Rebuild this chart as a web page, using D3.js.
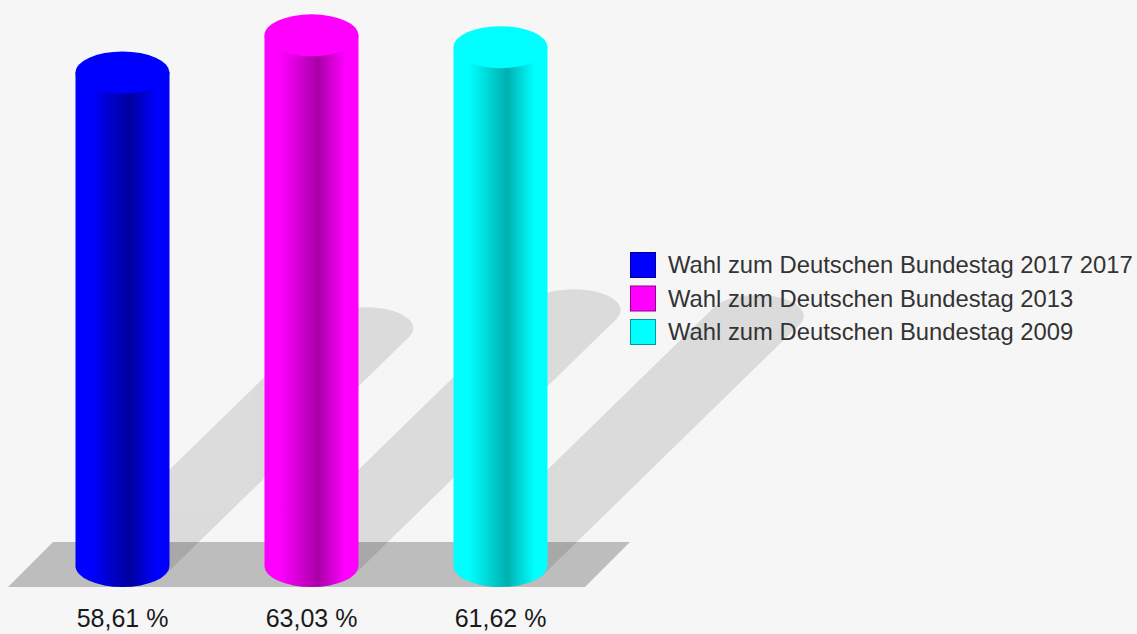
<!DOCTYPE html>
<html>
<head>
<meta charset="utf-8">
<script src="https://cdn.jsdelivr.net/npm/d3@7"></script>
<style>
  body { margin: 0; background: #f6f6f6; }
  svg { display: block; font-family: "Liberation Sans", Arial, sans-serif; }
</style>
</head>
<body>
<svg id="chart"></svg>
<script>
const categories = ["Wahl zum Deutschen Bundestag 2017 2017", "Wahl zum Deutschen Bundestag 2013", "Wahl zum Deutschen Bundestag 2009"];
const values = [58.61, 63.03, 61.62];
const colors = ["#0000ff", "#ff00ff", "#00ffff"];
const darkColors = ["#00009c", "#a800a8", "#00b0b0"];
const borderColors = ["#000090", "#900090", "#009a9a"];

const width = 1137, height = 634;
const rx = 47, ry = 21;
const baseY = 566;

const de = d3.formatLocale({decimal: ",", thousands: ".", grouping: [3], currency: ["", " €"]});
const fmt = de.format(".2f");

const svg = d3.select("#chart")
    .attr("width", width)
    .attr("height", height);

svg.append("rect")
    .attr("width", width)
    .attr("height", height)
    .attr("fill", "#f6f6f6");

const xScale = d3.scalePoint()
    .domain(categories)
    .range([122.5, 500.5]);

const yScale = d3.scaleLinear()
    .domain([0, 60])
    .range([baseY, baseY - 60 * 8.42]);

const defs = svg.append("defs");
categories.forEach((c, i) => {
    const g = defs.append("linearGradient")
        .attr("id", "grad" + i)
        .attr("x1", "0%").attr("x2", "100%")
        .attr("y1", "0%").attr("y2", "0%");
    g.append("stop").attr("offset", "0%").attr("stop-color", colors[i]);
    g.append("stop").attr("offset", "16%").attr("stop-color", colors[i]);
    g.append("stop").attr("offset", "57%").attr("stop-color", darkColors[i]);
    g.append("stop").attr("offset", "86%").attr("stop-color", colors[i]);
    g.append("stop").attr("offset", "100%").attr("stop-color", colors[i]);
});

// floor
const x0 = xScale.range()[0], x1 = xScale.range()[1];
const floorTop = baseY - 24, floorBottom = baseY + ry;
svg.append("path")
    .attr("d", `M${x0 - 114.5},${floorBottom} L${x0 - 69.5},${floorTop} L${x1 + 129.5},${floorTop} L${x1 + 84.5},${floorBottom} Z`)
    .attr("fill", "#bdbdbd");

// shadows
const shadowG = svg.append("g")
    .attr("opacity", 0.105)
    .attr("fill", "#000");

values.forEach((v, i) => {
    const cx = xScale(categories[i]);
    const h = baseY - yScale(v);
    const dx = 0.494 * h, dy = 0.482 * h;
    const t = Math.atan2(ry * dx, rx * dy);
    const px = rx * Math.cos(t), py = ry * Math.sin(t);
    const tx = cx + dx, ty = baseY - dy;
    shadowG.append("path")
        .attr("d", `M${cx + px},${baseY + py} L${tx + px},${ty + py} L${tx - px},${ty - py} L${cx - px},${baseY - py} Z`);
    shadowG.append("ellipse")
        .attr("cx", tx).attr("cy", ty)
        .attr("rx", rx).attr("ry", ry);
    shadowG.append("ellipse")
        .attr("cx", cx).attr("cy", baseY)
        .attr("rx", rx).attr("ry", ry);
});

// cylinders
const bars = svg.selectAll(".bar")
    .data(values)
    .enter()
    .append("g")
    .attr("class", "bar");

bars.append("path")
    .attr("d", (d, i) => {
        const cx = xScale(categories[i]);
        const top = yScale(d);
        return `M${cx - rx},${top} L${cx - rx},${baseY} A${rx},${ry} 0 0 0 ${cx + rx},${baseY} L${cx + rx},${top} Z`;
    })
    .attr("fill", (d, i) => `url(#grad${i})`);

bars.append("ellipse")
    .attr("cx", (d, i) => xScale(categories[i]))
    .attr("cy", d => yScale(d))
    .attr("rx", rx)
    .attr("ry", ry)
    .attr("fill", (d, i) => colors[i]);

// value labels
svg.selectAll(".label")
    .data(values)
    .enter()
    .append("text")
    .attr("class", "label")
    .attr("x", (d, i) => xScale(categories[i]))
    .attr("y", 627)
    .attr("text-anchor", "middle")
    .attr("font-size", "25px")
    .attr("fill", "#1a1a1a")
    .text(d => fmt(d) + " %");

// legend
const legend = svg.append("g")
    .attr("transform", "translate(630,252)");

const items = legend.selectAll(".item")
    .data(categories)
    .enter()
    .append("g")
    .attr("class", "item")
    .attr("transform", (d, i) => `translate(0,${i * 33.5})`);

items.append("rect")
    .attr("x", 0.5).attr("y", 0.5)
    .attr("width", 25).attr("height", 25)
    .attr("fill", (d, i) => colors[i])
    .attr("stroke", (d, i) => borderColors[i]);

items.append("text")
    .attr("x", 38)
    .attr("y", 21)
    .attr("font-size", "23.8px")
    .attr("fill", "#333")
    .text(d => d);
</script>
</body>
</html>
